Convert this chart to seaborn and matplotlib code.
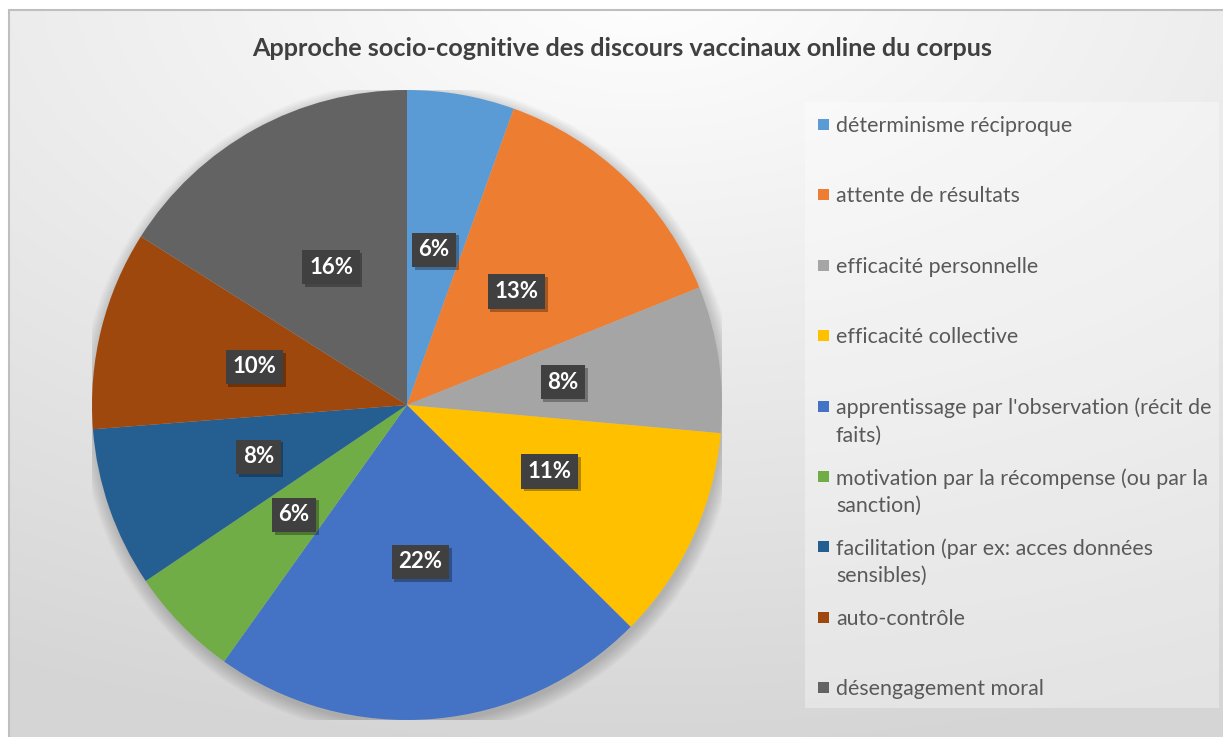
import numpy as np
import seaborn as sns
import matplotlib.pyplot as plt
import matplotlib.patches as mpatches
import matplotlib.patheffects as pe

# données (parts en %, estimées d'après les angles)
categories = [
    "déterminisme réciproque",
    "attente de résultats",
    "efficacité personnelle",
    "efficacité collective",
    "apprentissage par l'observation (récit de\nfaits)",
    "motivation par la récompense (ou par la\nsanction)",
    "facilitation (par ex: acces données\nsensibles)",
    "auto-contrôle",
    "désengagement moral",
]
percents = [5.5, 13.4, 7.5, 11.0, 22.4, 5.7, 8.2, 10.2, 16.0]
slice_colors = ["#5B9BD5", "#ED7D31", "#A5A5A5", "#FFC000", "#4472C4",
                "#70AD47", "#255E91", "#9E480E", "#636363"]
title = "Approche socio-cognitive des discours vaccinaux online du corpus"

sns.set_style("white")
plt.rcParams['font.family'] = ['Lato', 'DejaVu Sans']

W, H = 1223, 737
fig = plt.figure(figsize=(W / 100, H / 100), dpi=100)

# fond dégradé (coordonnées en pixels)
ax_bg = fig.add_axes([0, 0, 1, 1])
ax_bg.set_xlim(0, W)
ax_bg.set_ylim(H, 0)
ax_bg.axis('off')
yy, xx = np.mgrid[0:H, 0:W]
t = np.sqrt(((xx - 640) / 1400.0) ** 2 + ((yy + 20) / 780.0) ** 2)
t = np.clip(t, 0, 1)
g = (255 - 42 * t) / 255.0
img = np.dstack([g, g, g])
img[:10, :, :] = 1.0
img[:, :9, :] = 1.0
ax_bg.imshow(img, extent=(0, W, H, 0), aspect='auto', zorder=0)
ax_bg.plot([9, 9], [10, H], color="#bfbfbf", lw=1.5, zorder=1)
ax_bg.plot([9, W], [10, 10], color="#bfbfbf", lw=1.5, zorder=1)

ax_bg.text(622, 48, title, ha='center', va='center', fontsize=18.2,
           fontweight='bold', color='#404040')

# légende dessinée à la main (comme Excel : un pas fixe par entrée)
ax_bg.add_patch(mpatches.Rectangle((805, 102), 414, 606, facecolor='white',
                                   alpha=0.35, edgecolor='none', zorder=2))
step = 70.4
for i, (lab, col) in enumerate(zip(categories, slice_colors)):
    yc = 125 + i * step
    ax_bg.add_patch(mpatches.Rectangle((818, yc - 6), 11, 11, facecolor=col,
                                       edgecolor='none', zorder=3))
    ax_bg.text(836, yc - 9, lab, ha='left', va='top', fontsize=15.4,
               color='#595959', linespacing=1.45, zorder=3)

# camembert
cx, cy, r = 407, 405, 315
ax = fig.add_axes([(cx - r) / W, (H - cy - r) / H, 2 * r / W, 2 * r / H])
ax.axis('off')

# ombre douce
for k in range(10):
    ax.add_patch(mpatches.Circle((0.005, -0.014), 1.0 + 0.0045 * k,
                                 color='black', alpha=0.02, lw=0, zorder=0))

wedges, texts, autotexts = ax.pie(
    percents, colors=sns.color_palette(slice_colors), startangle=90,
    counterclock=False, autopct='%1.0f%%', pctdistance=0.5,
    wedgeprops={'linewidth': 0}, radius=1.0,
    textprops={'color': 'white', 'fontsize': 16, 'fontweight': 'bold'})
ax.set_xlim(-1, 1)
ax.set_ylim(-1, 1)
for w in wedges:
    w.set_zorder(1)
for at in autotexts:
    at.set_zorder(5)
    at.set_bbox(dict(boxstyle='square,pad=0.3', facecolor='#404040',
                     edgecolor='none'))
    at.get_bbox_patch().set_path_effects(
        [pe.withSimplePatchShadow(offset=(2, -2), shadow_rgbFace='black', alpha=0.3)])

fig.savefig('out.png', dpi=100)
